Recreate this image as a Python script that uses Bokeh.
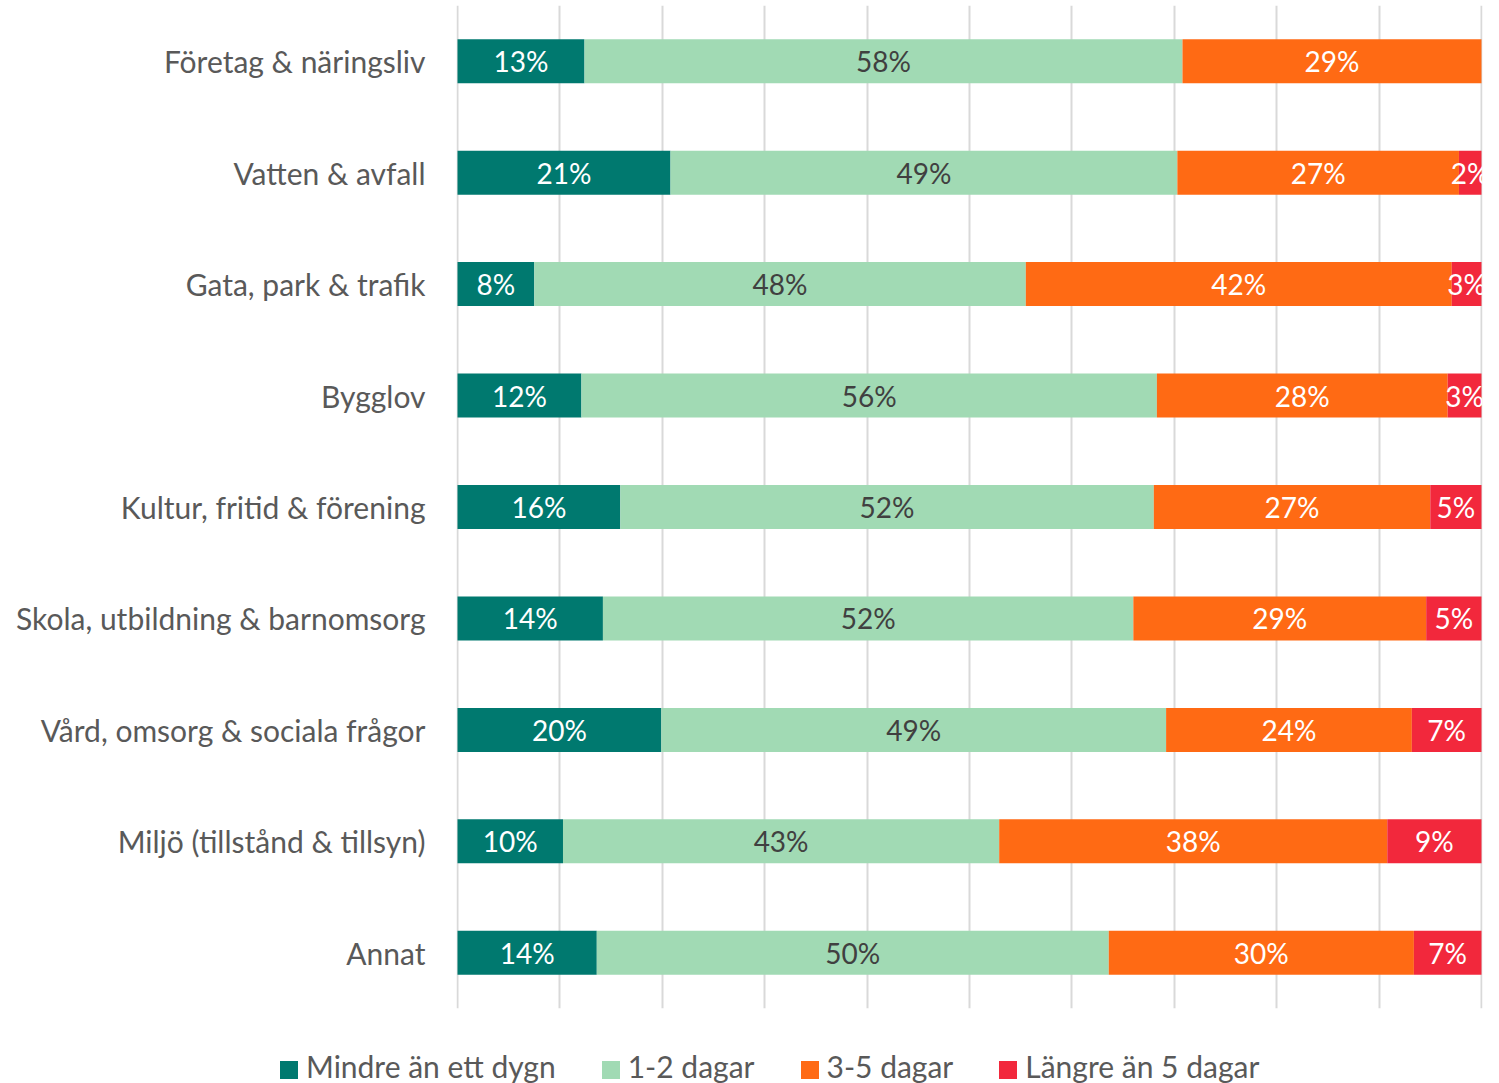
import numpy as np
from bokeh.plotting import figure
from bokeh.layouts import column
from bokeh.models import ColumnDataSource, FactorRange, Range1d, FixedTicker, Div
from bokeh.core.properties import value
from bokeh.embed import file_html
from bokeh.resources import INLINE

categories = ["Företag & näringsliv", "Vatten & avfall", "Gata, park & trafik", "Bygglov",
              "Kultur, fritid & förening", "Skola, utbildning & barnomsorg",
              "Vård, omsorg & sociala frågor", "Miljö (tillstånd & tillsyn)", "Annat"]
series = ["Mindre än ett dygn", "1-2 dagar", "3-5 dagar", "Längre än 5 dagar"]

mindre = [12.4, 20.8, 7.5, 12.1, 15.9, 14.2, 19.9, 10.3, 13.6]
dagar_1_2 = [58.4, 49.5, 48.0, 56.2, 52.1, 51.8, 49.3, 42.6, 50.0]
dagar_3_5 = [29.2, 27.5, 41.6, 28.4, 27.0, 28.6, 24.0, 37.9, 29.8]
langre = [0.0, 2.2, 2.9, 3.3, 5.0, 5.4, 6.8, 9.2, 6.6]

lab_mindre = ["13%", "21%", "8%", "12%", "16%", "14%", "20%", "10%", "14%"]
lab_1_2 = ["58%", "49%", "48%", "56%", "52%", "52%", "49%", "43%", "50%"]
lab_3_5 = ["29%", "27%", "42%", "28%", "27%", "29%", "24%", "38%", "30%"]
lab_langre = ["", "2%", "3%", "3%", "5%", "5%", "7%", "9%", "7%"]

colors = ["#00796F", "#A1DAB4", "#FF6A14", "#F2283C"]
label_colors = ["white", "#404040", "white", "white"]
FONT = "Lato"
TXT = "#595959"

keys = ["s0", "s1", "s2", "s3"]
data = dict(cat=categories, s0=mindre, s1=dagar_1_2, s2=dagar_3_5, s3=langre)
src = ColumnDataSource(data)

p = figure(frame_width=1026, frame_height=1003, output_backend="svg", toolbar_location=None,
           y_range=FactorRange(*reversed(categories), range_padding=0),
           x_range=Range1d(-0.1, 100.1), x_axis_location=None,
           min_border_left=456, min_border_right=9, min_border_top=5, min_border_bottom=2)
p.outline_line_color = None
p.background_fill_color = "white"
p.border_fill_color = "white"

renderers = p.hbar_stack(keys, y="cat", height=0.395, color=colors, source=src, line_color=None)

# data labels
all_vals = [mindre, dagar_1_2, dagar_3_5, langre]
all_labs = [lab_mindre, lab_1_2, lab_3_5, lab_langre]
arr = np.array(all_vals)
cum = np.cumsum(arr, axis=0)
xs, ys, ts, cs = [], [], [], []
for i in range(4):
    for j, c in enumerate(categories):
        if all_labs[i][j]:
            xs.append(cum[i, j] - arr[i, j] / 2)
            ys.append(c)
            ts.append(all_labs[i][j])
            cs.append(label_colors[i])
lbl = p.text(x=xs, y=ys, text=ts, text_align="center", text_baseline="middle",
             text_color=cs, text_font=value(FONT), text_font_size="28px")

# clip labels at the 100% edge like the reference
p.x_range.bounds = None

# axes
p.yaxis.axis_line_color = None
p.yaxis.major_tick_line_color = None
p.yaxis.minor_tick_line_color = None
p.yaxis.major_label_text_font = FONT
p.yaxis.major_label_text_font_size = "30px"
p.yaxis.major_label_text_color = TXT
p.yaxis.major_label_standoff = 25

p.ygrid.grid_line_color = None
p.xgrid.ticker = FixedTicker(ticks=list(range(0, 101, 10)))
p.xgrid.grid_line_color = "#D9D9D9"
p.xgrid.grid_line_width = 2

# legend (HTML row under the chart)
parts = []
for k, (s, c) in enumerate(zip(series, colors)):
    gap = "" if k == 0 else '<span style="display:inline-block;width:46px"></span>'
    parts.append(gap + f'<span style="display:inline-block;width:18px;height:18px;background:{c};'
                 f'margin-right:8px;vertical-align:-1px"></span>{s}')
html = ('<div style="padding-left:280px;padding-top:38px;font-family:Lato;font-size:30px;'
        f'color:{TXT};white-space:nowrap;line-height:36px">' + "".join(parts) + '</div>')
legend_div = Div(text=html, width=1491, height=73, margin=(0, 0, 0, 0))

layout = column(p, legend_div, spacing=0)
open("out.html", "w").write(file_html(layout, INLINE))
